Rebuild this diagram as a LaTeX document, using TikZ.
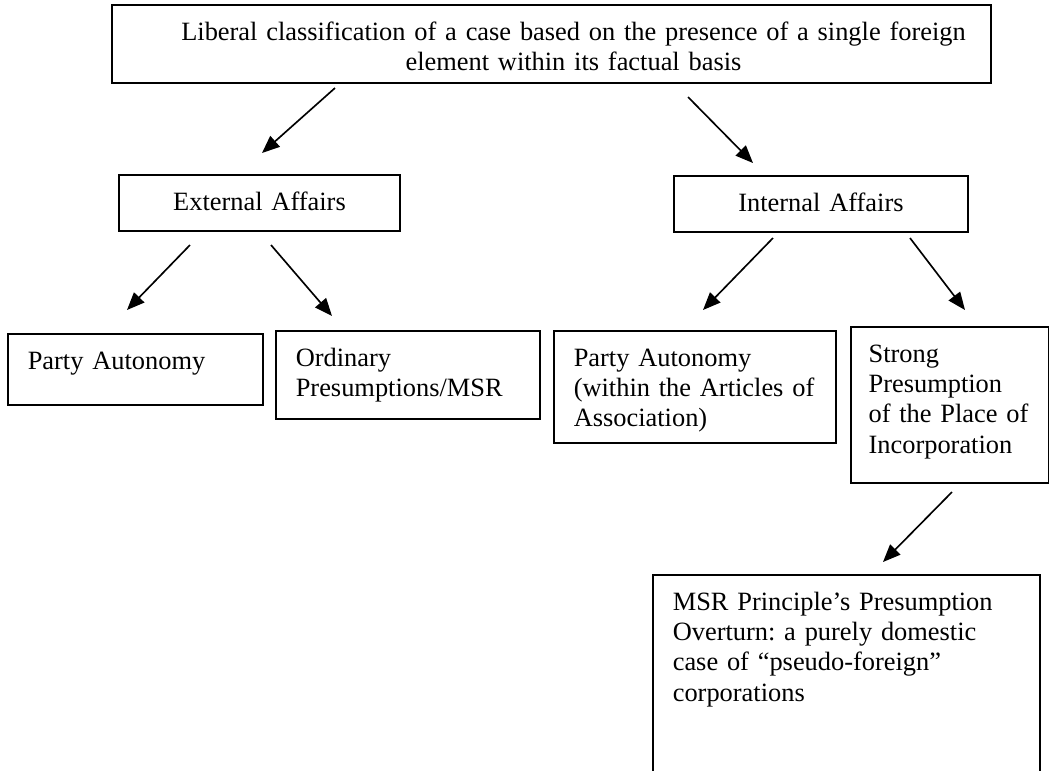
\documentclass[tikz,border=0pt]{standalone}
\usepackage{fontspec}
\setmainfont{Liberation Serif}
\usetikzlibrary{arrows.meta}
\tikzset{
  box/.style={draw, line width=0.9pt, anchor=north west, align=left, inner xsep=9pt, inner ysep=7pt, text height=9pt, font=\fontsize{12}{13.8}\selectfont\frenchspacing},
  arr/.style={-{Triangle[length=8pt,width=6.5pt]}, line width=0.75pt}
}
\begin{document}
\begin{tikzpicture}[x=0.4545pt, y=-0.4545pt]
\clip (0,0) rectangle (1049,770);
\node (root) at (111,4) [box, align=center, text width=381.5pt, text depth=12.45pt] {\hspace*{20pt}Liberal classification of a case based on the presence of a single foreign\\ \hspace*{20pt}element within its factual basis};
\node (ext) at (118,174) [box, align=center, text width=109.7pt, text depth=2.45pt] {External Affairs};
\node (int) at (673,175) [box, align=center, text width=115.6pt, text depth=2.45pt] {Internal Affairs};
\node (extpa) at (7,333) [box, text width=97.9pt, text depth=9.27pt] {Party Autonomy};
\node (extord) at (275,330) [box, text width=102pt, text depth=17pt] {Ordinary\\ Presumptions/MSR};
\node (intpa) at (553,330) [box, text width=110.2pt, text depth=27.9pt] {Party Autonomy\\ (within the Articles of\\ Association)};
\node (intinc) at (850,326) [box, inner xsep=8pt, text width=74pt, text depth=47.9pt] {Strong\\ Presumption\\ \mbox{of the Place of}\\ Incorporation};
\node (msr) at (652,574) [box, text width=157.9pt, text depth=100pt] {MSR Principle’s Presumption\\ Overturn: a purely domestic\\ case of “pseudo-foreign”\\ corporations};
\coordinate (root-l) at (335,88);
\coordinate (root-r) at (688,97);
\coordinate (ext-in) at (262,153);
\coordinate (int-in) at (753,163);
\coordinate (ext-l) at (190,245);
\coordinate (ext-r) at (271,245);
\coordinate (extpa-in) at (127,310);
\coordinate (extord-in) at (332,316);
\coordinate (int-l) at (773,238);
\coordinate (int-r) at (910,238);
\coordinate (intpa-in) at (703,310);
\coordinate (intinc-in) at (965,310);
\coordinate (intinc-out) at (952,492);
\coordinate (msr-in) at (883,562);
\draw[arr] (root-l) -- (ext-in);
\draw[arr] (root-r) -- (int-in);
\draw[arr] (ext-l) -- (extpa-in);
\draw[arr] (ext-r) -- (extord-in);
\draw[arr] (int-l) -- (intpa-in);
\draw[arr] (int-r) -- (intinc-in);
\draw[arr] (intinc-out) -- (msr-in);
\end{tikzpicture}
\end{document}
